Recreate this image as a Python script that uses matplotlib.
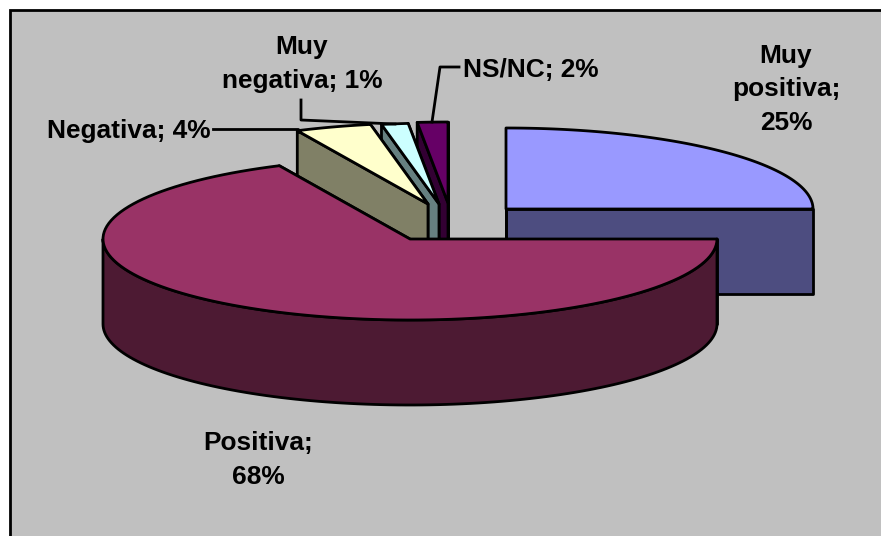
import numpy as np
import matplotlib
matplotlib.use('Agg')
import matplotlib.pyplot as plt
from matplotlib.patches import Polygon, Rectangle

categories = ['Muy positiva', 'Positiva', 'Negativa', 'Muy negativa', 'NS/NC']
values = [25, 68, 4, 1.4, 1.6]
labels = ['Muy\npositiva;\n25%', 'Positiva;\n68%', 'Negativa; 4%', 'Muy\nnegativa; 1%', 'NS/NC; 2%']
top_colors = ['#9999ff', '#993366', '#ffffcc', '#ccffff', '#660066']
side_colors = ['#4d4d80', '#4d1a33', '#808066', '#668080', '#330033']

# layout, all in image pixels
centers = [(506, 209), (410, 239), (428, 204), (439, 204), (448, 203)]
label_pos = [(786, 89), (258, 460), (129, 131), (302, 64), (531, 70)]
draw_order = [4, 3, 2, 0, 1]
RX, RY, DEPTH = 307, 81, 85
LW = 2


def arc(cx, cy, t1, t2):
	t = np.radians(np.linspace(t1, t2, 120))
	return np.column_stack([cx + RX * np.sin(t), cy - RY * np.cos(t)])


def add_poly(ax, pts, color):
	ax.add_patch(Polygon(pts, closed=True, facecolor=color, edgecolor='black', linewidth=LW, joinstyle='round'))


def cut_face(cx, cy, t):
	p = arc(cx, cy, t, t)[0]
	return [(cx, cy), p, (p[0], p[1] + DEPTH), (cx, cy + DEPTH)]


def draw_slice(ax, cx, cy, t1, t2, top, side):
	add_poly(ax, cut_face(cx, cy, t2), side)
	add_poly(ax, cut_face(cx, cy, t1), side)
	a, b = max(t1, 90), min(t2, 270)
	if b > a:
		edge = arc(cx, cy, a, b)
		add_poly(ax, np.vstack([edge, edge[::-1] + [0, DEPTH]]), side)
	add_poly(ax, np.vstack([[(cx, cy)], arc(cx, cy, t1, t2)]), top)


def main():
	fig = plt.figure(figsize=(8.81, 5.36), dpi=100, facecolor='white')
	ax = fig.add_axes([0, 0, 1, 1])
	ax.set_xlim(0, 881)
	ax.set_ylim(536, 0)
	ax.axis('off')

	ax.add_patch(Rectangle((9.5, 9.5), 1000, 1000, facecolor='#c0c0c0', edgecolor='black', linewidth=2))

	edges = np.cumsum([0] + values) / sum(values) * 360
	for i in draw_order:
		cx, cy = centers[i]
		draw_slice(ax, cx, cy, edges[i], edges[i + 1], top_colors[i], side_colors[i])

	# leader lines
	ax.plot([213, 298, 298], [129, 129, 132], color='black', lw=LW)
	ax.plot([301, 301, 395], [100, 120, 124], color='black', lw=LW)
	ax.plot([459, 440, 432], [67, 67, 122], color='black', lw=LW)

	for text, (x, y) in zip(labels, label_pos):
		ax.text(x, y, text, ha='center', va='center', family='Liberation Sans', weight='bold',
			fontsize=18.9, linespacing=1.5, color='black')

	fig.savefig('out.png', dpi=100, facecolor='white')


if __name__ == "__main__":
	main()
